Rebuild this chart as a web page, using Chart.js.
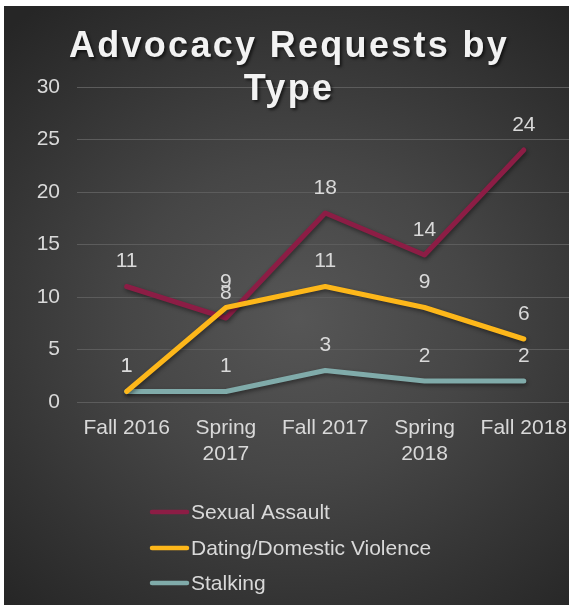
<!DOCTYPE html>
<html><head><meta charset="utf-8">
<script src="https://cdn.jsdelivr.net/npm/chart.js@4/dist/chart.umd.min.js"></script>
<style>
html,body{margin:0;padding:0;background:#fff;overflow:hidden;width:569px;height:605px;}
#wrap{position:absolute;left:4px;top:6px;width:577px;height:599px;
background:radial-gradient(ellipse 75% 65% at 51% 52%, #565656 0%, #464646 40%, #333333 75%, #262626 100%);}
canvas{display:block}
</style></head><body>
<div id="wrap"><canvas id="c" width="577" height="599"></canvas></div>
<script>
const categories = [["Fall 2016"], ["Spring", "2017"], ["Fall 2017"], ["Spring", "2018"], ["Fall 2018"]];
const seriesNames = ["Sexual Assault", "Dating/Domestic Violence", "Stalking"];
const sexualAssault = [11, 8, 18, 14, 24];
const datingViolence = [1, 9, 11, 9, 6];
const stalking = [1, 1, 3, 2, 2];
const yTickMin = 0, yTickMax = 30, yTickStep = 5;
const titleLines = ["Advocacy Requests by", "Type"];
const seriesColors = ["#8C1D45", "#FDB71A", "#80ABAA"];

const FONT = "'Liberation Sans', Arial, sans-serif";
const TEXT = "#D9D9D9";

const overlay = {
  id: 'overlay',
  beforeDatasetDraw(chart) {
    const ctx = chart.ctx;
    ctx.save();
    ctx.shadowColor = 'rgba(0,0,0,0.45)';
    ctx.shadowBlur = 4;
    ctx.shadowOffsetX = 1;
    ctx.shadowOffsetY = 2;
  },
  afterDatasetDraw(chart) { chart.ctx.restore(); },
  afterDatasetsDraw(chart) {
    const ctx = chart.ctx;
    ctx.save();
    ctx.font = "21px " + FONT;
    ctx.fillStyle = TEXT;
    ctx.textAlign = 'center';
    ctx.textBaseline = 'middle';
    chart.data.datasets.forEach((ds, i) => {
      const meta = chart.getDatasetMeta(i);
      meta.data.forEach((pt, j) => {
        ctx.fillText(String(ds.data[j]), pt.x, pt.y - 25);
      });
    });
    ctx.restore();
  },
  afterDraw(chart) {
    const ctx = chart.ctx;
    // title
    ctx.save();
    ctx.font = "bold 36px " + FONT;
    ctx.letterSpacing = '2.3px';
    ctx.fillStyle = '#F2F2F2';
    ctx.textAlign = 'center';
    ctx.textBaseline = 'alphabetic';
    ctx.shadowColor = 'rgba(0,0,0,0.6)';
    ctx.shadowBlur = 3;
    ctx.shadowOffsetX = 2;
    ctx.shadowOffsetY = 2;
    const cx = 285;
    ctx.fillText(titleLines[0], cx, 51);
    ctx.fillText(titleLines[1], cx, 94);
    ctx.restore();
    // legend
    ctx.save();
    ctx.font = "21px " + FONT;
    ctx.textBaseline = 'middle';
    ctx.textAlign = 'left';
    const rows = [506, 542, 577];
    chart.data.datasets.forEach((ds, i) => {
      const y = rows[i];
      ctx.strokeStyle = ds.borderColor;
      ctx.lineWidth = 4.5;
      ctx.lineCap = 'round';
      ctx.beginPath();
      ctx.moveTo(148, y);
      ctx.lineTo(183, y);
      ctx.stroke();
      ctx.fillStyle = TEXT;
      ctx.fillText(ds.label, 187, y + 1);
    });
    ctx.restore();
  }
};

new Chart(document.getElementById('c'), {
  type: 'line',
  data: {
    labels: categories,
    datasets: [
      { label: seriesNames[0], data: sexualAssault, borderColor: seriesColors[0], order: 1 },
      { label: seriesNames[1], data: datingViolence, borderColor: seriesColors[1], order: 0 },
      { label: seriesNames[2], data: stalking, borderColor: seriesColors[2], order: 2 }
    ].map(d => Object.assign(d, {
      borderWidth: 5, pointRadius: 0, pointHoverRadius: 0, tension: 0,
      borderCapStyle: 'round', borderJoinStyle: 'round', fill: false
    }))
  },
  options: {
    responsive: false,
    animation: false,
    events: [],
    layout: { padding: { top: 81, left: 0, right: 0, bottom: 0 } },
    plugins: { legend: { display: false }, title: { display: false }, tooltip: { enabled: false } },
    scales: {
      x: {
        type: 'category',
        offset: true,
        grid: { display: false, drawTicks: false },
        border: { display: false },
        ticks: { color: TEXT, font: { family: FONT, size: 21, lineHeight: 1.2 }, padding: 14, maxRotation: 0, autoSkip: false },
        afterFit: s => { s.height = 203; }
      },
      y: {
        min: yTickMin, max: yTickMax,
        ticks: { stepSize: yTickStep, color: TEXT, font: { family: FONT, size: 21 }, padding: 17 },
        grid: { color: '#5C5C5C', lineWidth: 1, drawTicks: false },
        border: { display: false },
        afterFit: s => { s.width = 73; }
      }
    }
  },
  plugins: [overlay]
});
</script>
</body></html>
